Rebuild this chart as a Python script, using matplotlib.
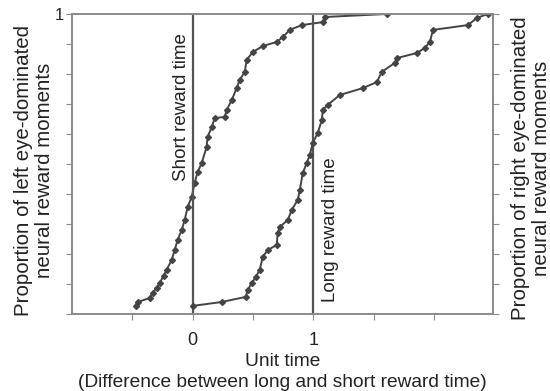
import matplotlib
matplotlib.use("Agg")
import matplotlib.pyplot as plt

plt.rcParams['font.family'] = ['Liberation Sans', 'DejaVu Sans']

# Left-eye dominated (relative to short reward time)
left_x = [-0.473, -0.456, -0.357, -0.332, -0.299, -0.274, -0.241, -0.216, -0.174, -0.149,
          -0.124, -0.091, -0.066, -0.041, -0.008, 0.017, 0.041, 0.075, 0.116, 0.124,
          0.158, 0.183, 0.266, 0.282, 0.324, 0.365, 0.390, 0.432, 0.448, 0.498,
          0.581, 0.697, 0.747, 0.805, 0.905, 1.079, 1.095, 1.610]
left_y = [0.027, 0.040, 0.053, 0.070, 0.087, 0.103, 0.127, 0.147, 0.180, 0.213,
          0.247, 0.280, 0.313, 0.357, 0.390, 0.437, 0.473, 0.503, 0.557, 0.590,
          0.623, 0.653, 0.657, 0.680, 0.713, 0.753, 0.780, 0.807, 0.847, 0.873,
          0.893, 0.907, 0.923, 0.947, 0.963, 0.973, 0.990, 1.000]

# Right-eye dominated (relative to long reward time)
right_x = [0.000, 0.241, 0.440, 0.456, 0.490, 0.523, 0.556, 0.581, 0.622, 0.697,
           0.705, 0.722, 0.788, 0.822, 0.871, 0.888, 0.913, 0.946, 0.971, 0.996,
           1.037, 1.071, 1.079, 1.120, 1.220, 1.411, 1.527, 1.568, 1.676, 1.693,
           1.859, 1.925, 1.967, 1.992, 2.282, 2.357, 2.448]
right_y = [0.027, 0.040, 0.057, 0.080, 0.103, 0.123, 0.147, 0.190, 0.213, 0.230,
           0.270, 0.290, 0.313, 0.347, 0.380, 0.413, 0.470, 0.503, 0.530, 0.570,
           0.603, 0.647, 0.680, 0.697, 0.730, 0.753, 0.773, 0.807, 0.837, 0.853,
           0.870, 0.887, 0.907, 0.947, 0.963, 0.987, 1.000]

x_ticks = [-0.5, 0, 0.5, 1, 1.5, 2]
x_ticklabels = ['', '0', '', '1', '', '']
y_ticks = [0, 0.1, 0.2, 0.3, 0.4, 0.5, 0.6, 0.7, 0.8, 0.9, 1.0]
y_ticklabels = ['', '', '', '', '', '', '', '', '', '', '1']
ref_lines = [0, 1]
ref_labels = ['Short reward time', 'Long reward time']

fig = plt.figure(figsize=(5.5, 3.91), dpi=100)
ax = fig.add_axes([72/550, 1 - 314/391, (493 - 72)/550, (314 - 14)/391])
ax2 = ax.twinx()

line_col = '#444444'
spine_col = '#8a8a8a'

ax.plot(left_x, left_y, color=line_col, lw=1.4, marker='D', ms=3, mec=line_col, mfc=line_col)
ax2.plot(right_x, right_y, color=line_col, lw=1.4, marker='D', ms=3, mec=line_col, mfc=line_col)

for xv in ref_lines:
    ax.axvline(xv, color='#555555', lw=1.6)

ax.text(-0.09, 0.69, ref_labels[0], rotation=90, ha='center', va='center', fontsize=13.5, color='#222222')
ax.text(1.14, 0.28, ref_labels[1], rotation=90, ha='center', va='center', fontsize=13.5, color='#222222')

for a in (ax, ax2):
    a.set_xlim(-1, 2.49)
    a.set_ylim(0, 1)
    for s in a.spines.values():
        s.set_color(spine_col)
        s.set_linewidth(1.2)

ax.set_xticks(x_ticks)
ax.set_xticklabels(x_ticklabels, fontsize=13)
ax.set_yticks(y_ticks)
ax.set_yticklabels(y_ticklabels, fontsize=12)
ax2.set_yticks(y_ticks)
ax2.set_yticklabels([''] * len(y_ticks))
ax.tick_params(axis='both', direction='out', length=4, color=spine_col, labelcolor='#222222')
ax.tick_params(axis='x', pad=9)
ax.tick_params(axis='y', pad=2)
ax2.tick_params(axis='y', direction='out', length=4, color=spine_col)

ax.set_xlabel('Unit time\n(Difference between long and short reward time)', fontsize=13.8,
              color='#222222', labelpad=3, linespacing=1.3)
ax.set_ylabel('Proportion of left eye-dominated\nneural reward moments', fontsize=14.8,
              color='#222222', linespacing=1.15)
ax.yaxis.set_label_coords(-0.042, 0.48)
fig.text(531/550, 1 - 168/391, 'Proportion of right eye-dominated\nneural reward moments',
         rotation=90, ha='center', va='center', fontsize=14.8, color='#222222', linespacing=1.15)

fig.savefig('out.png', dpi=100)
